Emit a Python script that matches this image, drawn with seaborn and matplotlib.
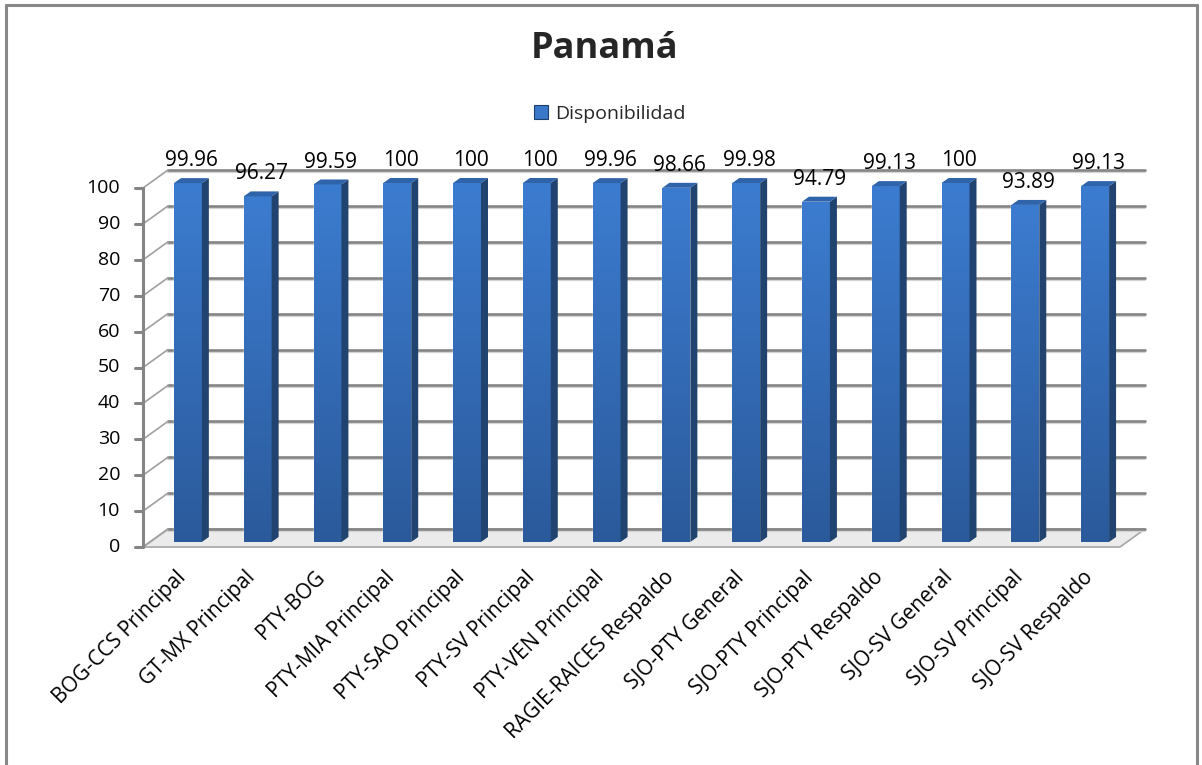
import numpy as np
import pandas as pd
import matplotlib.pyplot as plt
import seaborn as sns
from matplotlib.patches import Polygon, Rectangle
from matplotlib.lines import Line2D
from matplotlib.colors import LinearSegmentedColormap

# datos del grafico
enlaces = [
    "BOG-CCS Principal", "GT-MX Principal", "PTY-BOG", "PTY-MIA Principal",
    "PTY-SAO Principal", "PTY-SV Principal", "PTY-VEN Principal",
    "RAGIE-RAICES Respaldo", "SJO-PTY General", "SJO-PTY Principal",
    "SJO-PTY Respaldo", "SJO-SV General", "SJO-SV Principal", "SJO-SV Respaldo",
]
disponibilidad = [99.96, 96.27, 99.59, 100, 100, 100, 99.96,
                  98.66, 99.98, 94.79, 99.13, 100, 93.89, 99.13]
y_ticks = list(range(0, 101, 10))

FRONT = "#3A78C9"
SIDE = "#21436F"
TOP = "#2F63AA"
GRID = "#858585"

sns.set_style("white")
plt.rcParams["font.family"] = ["Open Sans", "DejaVu Sans"]

fig = plt.figure(figsize=(12.02, 7.65), dpi=100)
ax = fig.add_axes([153 / 1202, 223 / 765, 977 / 1202, 359 / 765])

df = pd.DataFrame({"Enlace": enlaces, "Disponibilidad": disponibilidad})
sns.barplot(data=df, x="Enlace", y="Disponibilidad", color=FRONT,
            saturation=1, width=0.4, ax=ax, zorder=3)
bars = list(ax.patches)

ax.set_xlim(-0.5, len(enlaces) - 0.5)
ax.set_ylim(0, 100)
ax.set_axis_off()

# pixel -> data units
p0 = ax.transData.transform((0, 0))
p1 = ax.transData.transform((1, 1))
sx, sy = p1 - p0


def px(dx, dy):
    return dx / sx, dy / sy


FX, FY = px(-10, -5)    # plano frontal
BX, BY = px(15, 13)     # pared del fondo
DX, DY = px(7, 5)       # profundidad de barra
xl, xr = -0.5, len(enlaces) - 0.5

# piso
floor = Polygon([(xl + FX, FY), (xr + FX, FY), (xr + BX, BY), (xl + BX, BY)],
                closed=True, facecolor="#EBEBEB", edgecolor="#A6A6A6",
                lw=1.2, clip_on=False, zorder=0.5)
ax.add_patch(floor)

# lineas de la cuadricula en el fondo y pared izquierda
sh = px(0, -2)[1]
for t in y_ticks:
    ax.plot([xl + BX, xr + BX], [t + BY + sh] * 2, color="#D4D4D4", lw=1.6,
            clip_on=False, zorder=0.6)
    ax.plot([xl + BX, xr + BX], [t + BY] * 2, color=GRID, lw=1.9,
            clip_on=False, zorder=0.7)
    ax.plot([xl + FX, xl + BX], [t + FY, t + BY], color="#A0A0A0", lw=1.2,
            clip_on=False, zorder=0.7)

# eje vertical frontal
ax.plot([xl + FX] * 2, [FY, 100 + FY], color=GRID, lw=2.2,
        clip_on=False, zorder=1)
tick_len = px(-8, 0)[0]
lab_pad = px(-23, 0)[0]
for t in y_ticks:
    ax.plot([xl + FX + tick_len, xl + FX], [t + FY] * 2, color=GRID, lw=2.2,
            clip_on=False, zorder=1)
    ax.text(xl + FX + lab_pad, t + FY, str(t), ha="right", va="center",
            fontsize=14, color="black")

# barras en 3D
cmap = LinearSegmentedColormap.from_list("bar", ["#2B5A9B", "#3C7CD0"])
grad = np.linspace(0, 1, 256).reshape(-1, 1)
for bar, v in zip(bars, disponibilidad):
    x0, w, h = bar.get_x(), bar.get_width(), bar.get_height()
    im = ax.imshow(grad, extent=[x0, x0 + w, 0, h], origin="lower",
                   cmap=cmap, aspect="auto", zorder=3.1)
    im.set_clip_path(bar)
    side = Polygon([(x0 + w, 0), (x0 + w + DX, DY), (x0 + w + DX, h + DY),
                    (x0 + w, h)], closed=True, facecolor=SIDE,
                   edgecolor="none", clip_on=False, zorder=3.2)
    top = Polygon([(x0, h), (x0 + DX, h + DY), (x0 + w + DX, h + DY),
                   (x0 + w, h)], closed=True, facecolor=TOP,
                  edgecolor="none", clip_on=False, zorder=3.2)
    ax.add_patch(side)
    ax.add_patch(top)
    ax.annotate(f"{v:g}", xy=(x0 + w / 2 + DX / 2, h + DY),
                xytext=(0, 5), textcoords="offset points",
                ha="center", va="bottom", fontsize=15, color="black",
                annotation_clip=False)

ax.set_xlim(xl, xr)
ax.set_ylim(0, 100)

# etiquetas del eje x
ox, oy = px(-13, -25)
for i, name in enumerate(enlaces):
    ax.text(i + ox, oy, name, rotation=45, rotation_mode="anchor",
            ha="right", va="top", fontsize=15, color="black")

# titulo y leyenda
fig.text(605 / 1202, 1 - 49 / 765, "Panamá", ha="center", va="center",
         fontsize=26, fontweight="bold")
handle = Rectangle((0, 0), 1, 1, facecolor=FRONT, edgecolor="#1F3F6B", lw=0.8)
fig.legend([handle], ["Disponibilidad"], loc="center",
           bbox_to_anchor=(610 / 1202, 1 - 114 / 765), frameon=False,
           fontsize=14, handlelength=0.7, handleheight=0.7, handletextpad=0.4)

# marco gris
fig.add_artist(Line2D([6 / 1202, 6 / 1202], [0, 1 - 5 / 765],
                      transform=fig.transFigure, color="#888888", lw=2.2))
fig.add_artist(Line2D([6 / 1202, 1197 / 1202], [1 - 5 / 765, 1 - 5 / 765],
                      transform=fig.transFigure, color="#888888", lw=2.2))
fig.add_artist(Line2D([1197 / 1202, 1197 / 1202], [0, 1 - 5 / 765],
                      transform=fig.transFigure, color="#888888", lw=2.2))

fig.savefig("out.png", dpi=100)
